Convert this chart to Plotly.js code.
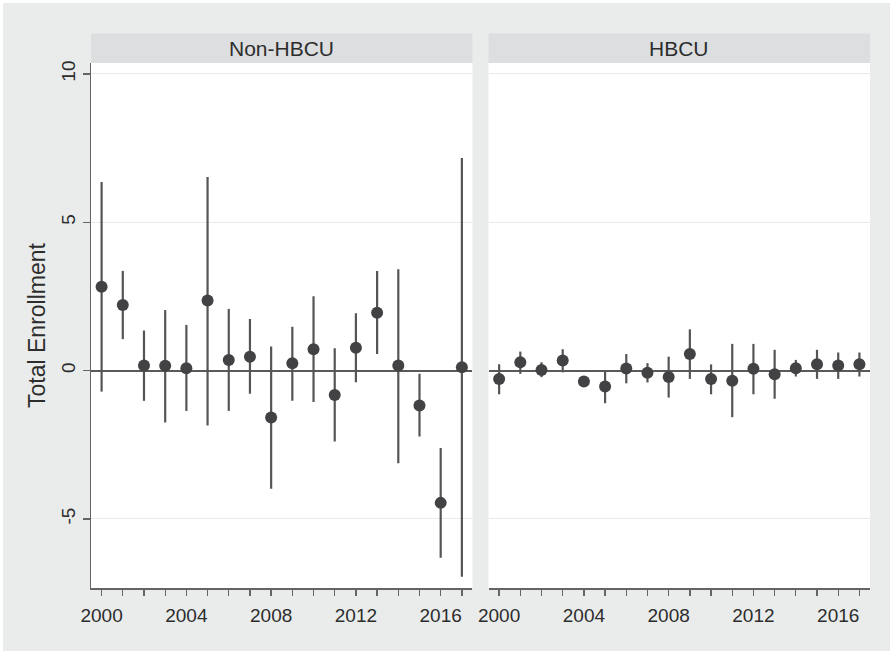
<!DOCTYPE html>
<html>
<head>
<meta charset="utf-8">
<script src="https://cdn.plot.ly/plotly-3.0.1.min.js"></script>
<style>
  html, body { margin: 0; padding: 0; background: #ffffff; }
  #chart { width: 893px; height: 654px; position: relative; }
  #frame { position: absolute; left: 0; top: 0; width: 893px; height: 654px; box-sizing: border-box; border: 3px solid #ffffff; pointer-events: none; }
</style>
</head>
<body>
<div style="position:relative;width:893px;height:654px;">
  <div id="chart"></div>
  <div id="frame"></div>
</div>
<script>
// ---- data ----
const years = [2000, 2001, 2002, 2003, 2004, 2005, 2006, 2007, 2008, 2009, 2010, 2011, 2012, 2013, 2014, 2015, 2016, 2017];

const panelNames = ["Non-HBCU", "HBCU"];

const nonHbcuEst = [2.83, 2.21, 0.17, 0.16, 0.08, 2.36, 0.36, 0.47, -1.58, 0.25, 0.72, -0.82, 0.77, 1.95, 0.17, -1.18, -4.46, 0.11];
const nonHbcuHi  = [6.36, 3.36, 1.35, 2.04, 1.54, 6.53, 2.08, 1.74, 0.81, 1.48, 2.51, 0.75, 1.93, 3.36, 3.42, -0.11, -2.61, 7.17];
const nonHbcuLo  = [-0.71, 1.06, -1.02, -1.75, -1.36, -1.85, -1.36, -0.78, -3.98, -1.02, -1.06, -2.39, -0.39, 0.56, -3.12, -2.22, -6.31, -6.95];

const hbcuEst = [-0.28, 0.28, 0.02, 0.34, -0.37, -0.54, 0.07, -0.07, -0.22, 0.56, -0.28, -0.34, 0.06, -0.12, 0.08, 0.21, 0.17, 0.21];
const hbcuHi  = [0.21, 0.64, 0.28, 0.72, -0.22, 0.00, 0.56, 0.25, 0.47, 1.39, 0.21, 0.90, 0.90, 0.70, 0.36, 0.70, 0.61, 0.61];
const hbcuLo  = [-0.80, -0.11, -0.22, -0.06, -0.52, -1.10, -0.43, -0.40, -0.91, -0.28, -0.80, -1.57, -0.80, -0.95, -0.20, -0.28, -0.28, -0.20];

const yTicks = [-5, 0, 5, 10];
const yTitle = "Total Enrollment";

// ---- styling ----
const FONT = "Liberation Sans, Arial, Helvetica, sans-serif";
const TEXT = "rgb(45,45,45)";
const BG = "rgb(234,236,236)";
const STRIP = "rgb(221,222,224)";
const MARK = "rgb(66,66,68)";
const BAR = "rgb(85,85,87)";
const AXIS = "rgb(100,100,100)";
const GRID = "rgb(232,234,234)";

function ciTrace(est, hi, lo, xa, ya) {
  return {
    type: "scatter", mode: "markers",
    x: years, y: est, xaxis: xa, yaxis: ya,
    marker: { color: MARK, size: 12, line: { width: 0 } },
    error_y: {
      type: "data", symmetric: false, visible: true,
      array: hi.map((h, i) => h - est[i]),
      arrayminus: lo.map((l, i) => est[i] - l),
      color: BAR, thickness: 2.2, width: 0
    },
    hoverinfo: "x+y"
  };
}

const traces = [
  ciTrace(nonHbcuEst, nonHbcuHi, nonHbcuLo, "x", "y"),
  ciTrace(hbcuEst, hbcuHi, hbcuLo, "x2", "y2")
];

const plotTop = 62.5, plotBottom = 588.5, H = 654;
const plotH = plotBottom - plotTop;
const stripTop = 1 + (plotTop - 33) / plotH;
const dom1 = [0, 0.4897], dom2 = [0.5103, 1];

function xAxis(domain, anchor) {
  return {
    domain: domain, anchor: anchor,
    range: [1999.5, 2017.5],
    tick0: 2000, dtick: 4,
    ticks: "outside", ticklen: 6, tickwidth: 1.3, tickcolor: AXIS,
    ticklabelstandoff: 4,
    minor: { tick0: 2000, dtick: 1, ticks: "outside", ticklen: 6, tickwidth: 1.3, tickcolor: AXIS, showgrid: false },
    showline: true, linecolor: AXIS, linewidth: 1.5,
    showgrid: false, zeroline: false,
    tickfont: { family: FONT, size: 19, color: TEXT }
  };
}

const yRange = [-7.33, 10.37];

const layout = {
  width: 893, height: 654,
  paper_bgcolor: BG, plot_bgcolor: "#ffffff",
  margin: { l: 91, r: 23, t: plotTop, b: H - plotBottom, pad: 0 },
  showlegend: false,
  font: { family: FONT, color: TEXT },
  xaxis: xAxis(dom1, "y"),
  xaxis2: xAxis(dom2, "y2"),
  yaxis: {
    anchor: "x", range: yRange, tickvals: yTicks, ticktext: yTicks.map(String),
    tickangle: -90,
    ticks: "outside", ticklen: 7, tickwidth: 1.3, tickcolor: AXIS,
    ticklabelstandoff: 0,
    showline: true, linecolor: AXIS, linewidth: 1.5,
    showgrid: true, gridcolor: GRID, gridwidth: 1,
    zeroline: true, zerolinecolor: "rgb(90,90,90)", zerolinewidth: 2,
    tickfont: { family: FONT, size: 19, color: TEXT },
    title: { text: yTitle, font: { family: FONT, size: 23, color: TEXT }, standoff: 6 }
  },
  yaxis2: {
    anchor: "x2", range: yRange, tickvals: yTicks,
    showticklabels: false, ticks: "",
    showline: false,
    showgrid: true, gridcolor: GRID, gridwidth: 1,
    zeroline: true, zerolinecolor: "rgb(90,90,90)", zerolinewidth: 2
  },
  shapes: [
    { type: "rect", xref: "paper", yref: "paper", x0: dom1[0], x1: dom1[1], y0: 1, y1: stripTop, fillcolor: STRIP, line: { width: 0 }, layer: "below" },
    { type: "rect", xref: "paper", yref: "paper", x0: dom2[0], x1: dom2[1], y0: 1, y1: stripTop, fillcolor: STRIP, line: { width: 0 }, layer: "below" }
  ],
  annotations: [
    { text: panelNames[0], xref: "paper", yref: "paper", x: (dom1[0] + dom1[1]) / 2, y: (1 + stripTop) / 2, xanchor: "center", yanchor: "middle", showarrow: false, font: { family: FONT, size: 21, color: TEXT } },
    { text: panelNames[1], xref: "paper", yref: "paper", x: (dom2[0] + dom2[1]) / 2, y: (1 + stripTop) / 2, xanchor: "center", yanchor: "middle", showarrow: false, font: { family: FONT, size: 21, color: TEXT } }
  ]
};

Plotly.newPlot("chart", traces, layout, { staticPlot: true, displayModeBar: false });
</script>
</body>
</html>
